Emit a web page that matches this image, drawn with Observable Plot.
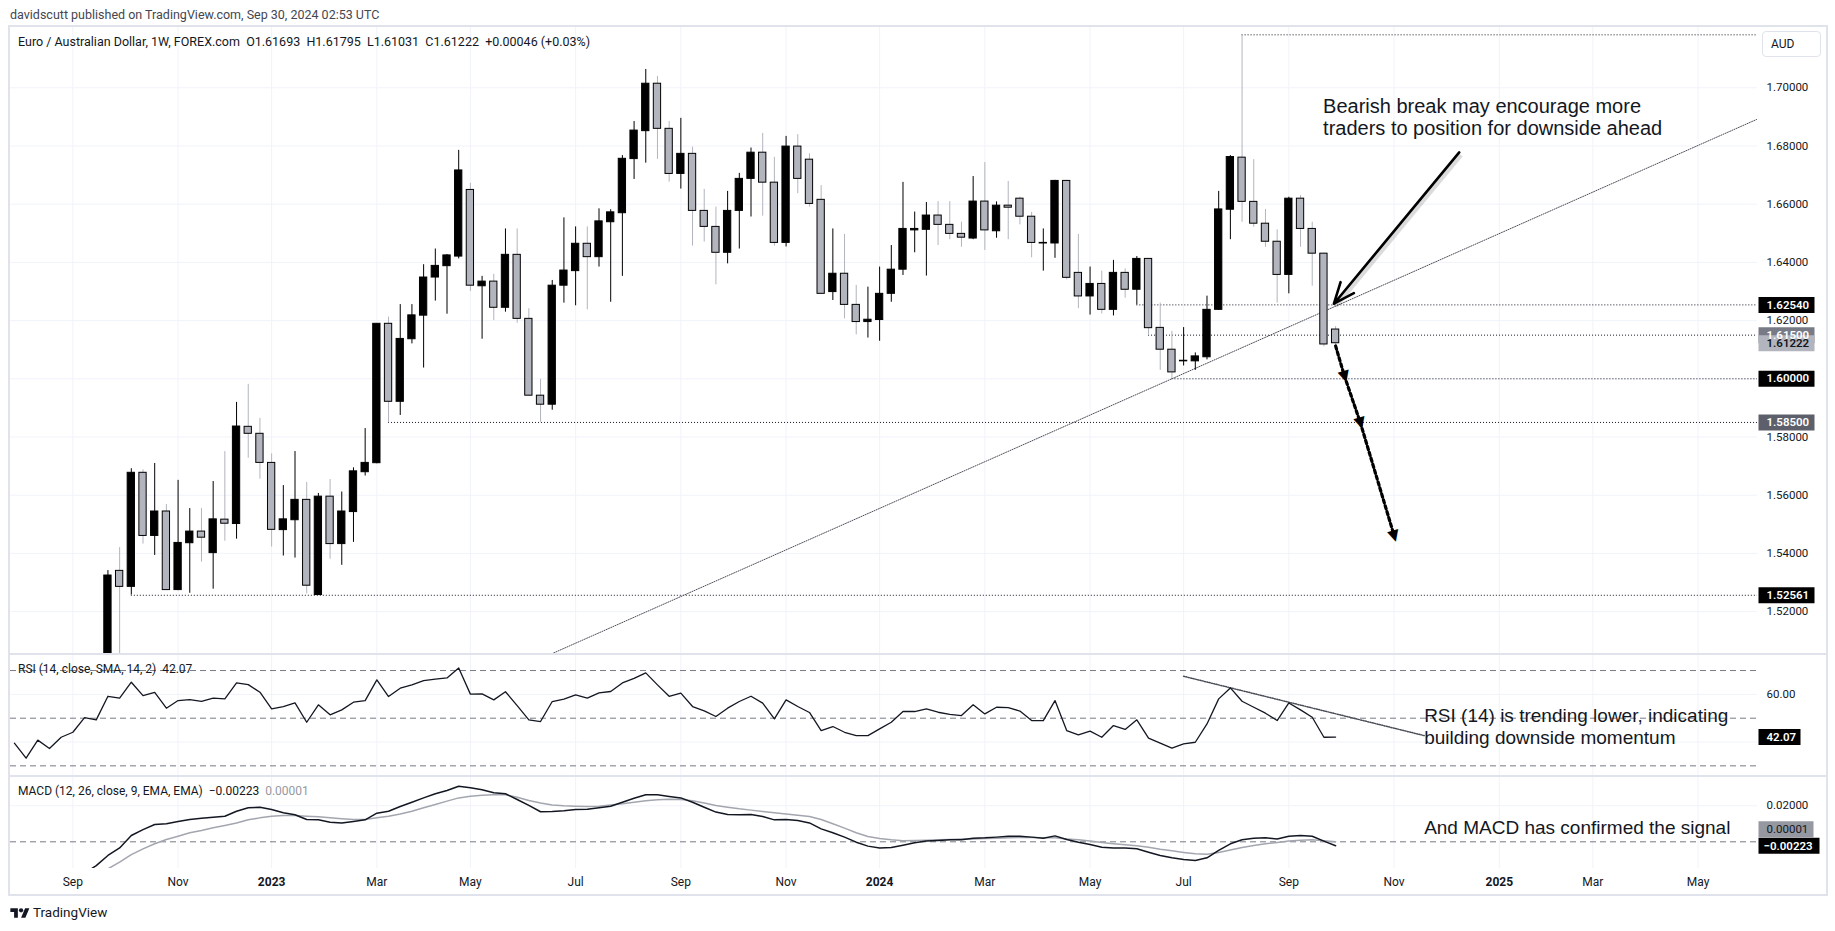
<!DOCTYPE html>
<html>
<head>
<meta charset="utf-8">
<script src="https://cdn.jsdelivr.net/npm/d3@7"></script>
<script src="https://cdn.jsdelivr.net/npm/@observablehq/plot@0.6"></script>
<style>
  html, body { margin: 0; padding: 0; background: #ffffff; }
  body { width: 1835px; height: 931px; position: relative; overflow: hidden; font-family: Roboto, "Noto Sans", sans-serif; color: #131722; }
  .abs { position: absolute; white-space: pre; }
  #frame { position: absolute; left: 8px; top: 25px; width: 1820px; height: 871px; box-sizing: border-box; border: 2px solid #e0e3eb; pointer-events: none; }
  .sep { position: absolute; left: 10px; width: 1816px; height: 2px; background: #e0e3eb; }
  #aud { position: absolute; left: 1762px; top: 31px; width: 59px; height: 26px; box-sizing: border-box; border: 1px solid #e0e3eb; border-radius: 4px; font-size: 12px; line-height: 24px; padding-left: 8px; background: #fff; }
</style>
</head>
<body>
<div id="charts"></div>
<div id="frame"></div>
<div class="sep" style="top:653px"></div>
<div class="sep" style="top:775px"></div>
<div class="abs" style="left:10px;top:7px;font-size:12.5px;color:#434651">davidscutt published on TradingView.com, Sep 30, 2024 02:53 UTC</div>
<div id="legend" class="abs" style="left:18px;top:34px;font-size:12.5px;"></div>
<div id="aud">AUD</div>
<div id="rsiLegend" class="abs" style="left:18px;top:662px;font-size:12px;"></div>
<div id="macdLegend" class="abs" style="left:18px;top:784px;font-size:12px;"></div>
<svg class="abs" style="left:10px;top:906px" width="20" height="15" viewBox="0 0 36 28"><path d="M14 22H7V11H0V4h14v18zM28 22h-8l7.5-18h8L28 22z" fill="#131722"/><circle cx="20" cy="8" r="4" fill="#131722"/></svg>
<div class="abs" style="left:33px;top:904px;font-size:13.5px;color:#131722">TradingView</div>
<script>
// ---------------- DATA ----------------
const symbolTitle = "Euro / Australian Dollar, 1W, FOREX.com";
const lastChange = "+0.00046 (+0.03%)";

const xDomainDates = ["2022-07-29T16:00:00Z", "2025-06-09T14:00:00Z"];
const tickDates = ["2022-09-05","2022-11-07","2023-01-02","2023-03-06","2023-05-01","2023-07-03","2023-09-04","2023-11-06",
  "2024-01-01","2024-03-04","2024-05-06","2024-07-01","2024-09-02","2024-11-04","2025-01-06","2025-03-03","2025-05-05"];
const tickLabels = ["Sep","Nov","2023","Mar","May","Jul","Sep","Nov","2024","Mar","May","Jul","Sep","Nov","2025","Mar","May"];
const priceTicks = [1.52, 1.54, 1.56, 1.58, 1.60, 1.62, 1.64, 1.66, 1.68, 1.70];

// weekly candles from week of 2022-09-26 to 2024-09-30
const candleStart = "2022-09-26";
const opens = [
  1.4990, 1.5340, 1.5285, 1.5677, 1.5460, 1.5544, 1.5274, 1.5435, 1.5475, 1.5401,
  1.5516, 1.5501, 1.5835, 1.5811, 1.5711, 1.5480, 1.5514, 1.5584, 1.5257, 1.5595,
  1.5432, 1.5542, 1.5679, 1.5710, 1.6189, 1.5921, 1.6136, 1.6217, 1.6348, 1.6387,
  1.6420, 1.6649, 1.6318, 1.6334, 1.6244, 1.6426, 1.6206, 1.5942, 1.5911, 1.6320,
  1.6370, 1.6464, 1.6418, 1.6538, 1.6569, 1.6755, 1.6851, 1.7014, 1.6859, 1.6704,
  1.6773, 1.6577, 1.6522, 1.6433, 1.6577, 1.6687, 1.6777, 1.6674, 1.6467, 1.6798,
  1.6753, 1.6615, 1.6298, 1.6361, 1.6254, 1.6195, 1.6202, 1.6292, 1.6375, 1.6510,
  1.6512, 1.6561, 1.6529, 1.6498, 1.6482, 1.6609, 1.6507, 1.6595, 1.6619, 1.6557,
  1.6465, 1.6465, 1.6680, 1.6364, 1.6283, 1.6326, 1.6237, 1.6364, 1.6306, 1.6412,
  1.6175, 1.6100, 1.6060, 1.6060, 1.6074, 1.6237, 1.6581, 1.6760, 1.6608, 1.6533,
  1.6471, 1.6357, 1.6619, 1.6515, 1.6430, 1.61693];
const highs = [
  1.5341, 1.5420, 1.5691, 1.5687, 1.5709, 1.5568, 1.5651, 1.5554, 1.5554, 1.5647,
  1.5750, 1.5919, 1.5981, 1.5864, 1.5742, 1.5633, 1.5750, 1.5644, 1.5606, 1.5654,
  1.5611, 1.5694, 1.5829, 1.6189, 1.6212, 1.6255, 1.6255, 1.6392, 1.6446, 1.6427,
  1.6785, 1.6672, 1.6352, 1.6359, 1.6515, 1.6515, 1.6241, 1.5998, 1.6338, 1.6553,
  1.6522, 1.6522, 1.6584, 1.6581, 1.6767, 1.6884, 1.7063, 1.7039, 1.6884, 1.6895,
  1.6796, 1.6651, 1.6590, 1.6644, 1.6706, 1.6793, 1.6843, 1.6761, 1.6833, 1.6839,
  1.6773, 1.6664, 1.6515, 1.6496, 1.6321, 1.6315, 1.6384, 1.6458, 1.6675, 1.6573,
  1.6606, 1.6609, 1.6609, 1.6538, 1.6695, 1.6743, 1.6608, 1.6678, 1.6624, 1.6572,
  1.6515, 1.6682, 1.6682, 1.6496, 1.6384, 1.6370, 1.6407, 1.6378, 1.6420, 1.6412,
  1.6260, 1.6163, 1.6176, 1.6089, 1.6284, 1.6644, 1.6767, 1.7182, 1.6753, 1.6582,
  1.6512, 1.6624, 1.6630, 1.6538, 1.6432, 1.61795];
const lows = [
  1.4950, 1.5000, 1.5257, 1.5432, 1.5393, 1.5272, 1.5272, 1.5263, 1.5370, 1.5277,
  1.5442, 1.5449, 1.5727, 1.5655, 1.5422, 1.5391, 1.5384, 1.5261, 1.5256, 1.5380,
  1.5359, 1.5438, 1.5666, 1.5708, 1.5849, 1.5874, 1.6120, 1.6037, 1.6267, 1.6222,
  1.6412, 1.6300, 1.6136, 1.6200, 1.6229, 1.6191, 1.5940, 1.5850, 1.5892, 1.6260,
  1.6251, 1.6237, 1.6384, 1.6263, 1.6352, 1.6685, 1.6741, 1.6754, 1.6676, 1.6652,
  1.6456, 1.6470, 1.6323, 1.6395, 1.6446, 1.6556, 1.6559, 1.6456, 1.6453, 1.6636,
  1.6590, 1.6290, 1.6269, 1.6206, 1.6151, 1.6140, 1.6129, 1.6263, 1.6355, 1.6433,
  1.6353, 1.6458, 1.6478, 1.6452, 1.6478, 1.6441, 1.6483, 1.6478, 1.6529, 1.6416,
  1.6370, 1.6414, 1.6340, 1.6241, 1.6219, 1.6223, 1.6216, 1.6277, 1.6254, 1.6149,
  1.6029, 1.6000, 1.6044, 1.6029, 1.6065, 1.6235, 1.6478, 1.6538, 1.6521, 1.6452,
  1.6260, 1.6292, 1.6452, 1.6318, 1.6110, 1.61031];
const closes = [
  1.5324, 1.5285, 1.5677, 1.5460, 1.5544, 1.5274, 1.5436, 1.5475, 1.5454, 1.5517,
  1.5502, 1.5836, 1.5811, 1.5711, 1.5481, 1.5517, 1.5584, 1.5289, 1.5595, 1.5432,
  1.5544, 1.5682, 1.5711, 1.6189, 1.5921, 1.6137, 1.6218, 1.6348, 1.6388, 1.6424,
  1.6716, 1.6320, 1.6334, 1.6244, 1.6426, 1.6206, 1.5942, 1.5911, 1.6320, 1.6372,
  1.6464, 1.6418, 1.6541, 1.6572, 1.6756, 1.6853, 1.7014, 1.6859, 1.6704, 1.6773,
  1.6577, 1.6522, 1.6433, 1.6577, 1.6687, 1.6777, 1.6674, 1.6467, 1.6798, 1.6687,
  1.6601, 1.6292, 1.6361, 1.6254, 1.6195, 1.6203, 1.6292, 1.6375, 1.6515, 1.6515,
  1.6561, 1.6529, 1.6498, 1.6485, 1.6609, 1.6510, 1.6595, 1.6588, 1.6557, 1.6467,
  1.6467, 1.6680, 1.6347, 1.6283, 1.6326, 1.6237, 1.6364, 1.6306, 1.6412, 1.6174,
  1.6100, 1.6022, 1.6062, 1.6077, 1.6237, 1.6582, 1.6762, 1.6608, 1.6533, 1.6471,
  1.6357, 1.6619, 1.6515, 1.6430, 1.6118, 1.61222];

// horizontal dotted levels (price, first week)
const levelPrices = [1.71820, 1.62540, 1.61500, 1.60000, 1.58500, 1.52561];
const levelFrom = ["2024-08-05", "2024-06-03", "2024-06-10", "2024-06-24", "2023-03-13", "2022-10-10"];

// price-scale boxes
const boxPrices = [1.62540, 1.61500, 1.61222, 1.60000, 1.58500, 1.52561];
const boxKinds = ["level", "mid", "last", "level", "dark", "level"];

// trend line (two anchors)
const trendDates = ["2023-06-12", "2025-06-09"];
const trendPrices = [1.5038, 1.6891];

// annotation arrow
const arrowFrom = {date: "2024-12-13", price: 1.6778};
const arrowTo = {date: "2024-09-29", price: 1.6258};

// dotted projection path
const projDates = ["2024-09-30", "2024-10-05T06:00:00Z", "2024-10-14T17:00:00Z", "2024-11-04"];
const projPrices = [1.6113, 1.6010, 1.5851, 1.5462];

// notes
const mainNote = {date: "2024-09-22T12:00:00Z", value: 1.6899, text: "Bearish break may encourage more\ntraders to position for downside ahead"};
const rsiNote = {date: "2024-11-22", value: 46.94, text: "RSI (14) is trending lower, indicating\nbuilding downside momentum"};
const macdNote = {date: "2024-11-22", value: 0.00794, text: "And MACD has confirmed the signal"};

// RSI weekly from 2022-08-01
const rsiStart = "2022-08-01";
const rsiValues = [
  39.5, 33.2, 40.8, 37.3, 42.0, 44.1, 50.2, 49.3, 59.2, 58.4,
  65.1, 59.5, 60.8, 54.2, 57.4, 57.8, 57.1, 58.4, 58.1, 64.8,
  64.1, 60.9, 53.9, 54.9, 56.4, 48.3, 55.6, 51.4, 53.5, 56.7,
  57.4, 66.1, 59.1, 62.6, 64.0, 65.8, 66.4, 66.9, 71.1, 60.1,
  60.2, 57.7, 61.1, 55.3, 49.3, 48.6, 57.0, 58.0, 59.8, 58.4,
  60.6, 61.2, 64.8, 66.7, 69.0, 64.0, 59.2, 60.5, 54.9, 53.1,
  50.7, 54.2, 57.0, 59.2, 56.3, 49.7, 57.7, 54.9, 52.4, 44.8,
  46.5, 44.1, 42.7, 42.7, 45.5, 48.3, 52.8, 52.8, 53.9, 52.5,
  51.6, 51.1, 55.6, 51.8, 54.6, 54.4, 53.0, 49.0, 49.0, 57.4,
  44.8, 43.0, 44.6, 42.0, 46.9, 45.3, 49.3, 41.6, 39.5, 37.4,
  39.2, 39.9, 47.6, 58.1, 62.7, 57.1, 54.6, 52.1, 49.0, 56.4,
  53.5, 50.4, 42.0, 42.07];
const rsiBands = [70, 50, 30];
const rsiGrid = [60, 40];
const rsiTrendDates = ["2024-07-01", "2024-11-22"];
const rsiTrendValues = [67.6, 42.7];

// MACD weekly from 2022-09-12
const macdStart = "2022-09-12";
const macdValues = [
  -0.0175, -0.0132, -0.0076, -0.0034, 0.0035, 0.0068, 0.0096, 0.0100, 0.0113, 0.0124,
  0.0131, 0.0137, 0.0142, 0.0170, 0.0189, 0.0192, 0.0179, 0.0161, 0.0150, 0.0124,
  0.0122, 0.0109, 0.0105, 0.0113, 0.0122, 0.0159, 0.0170, 0.0196, 0.0220, 0.0244,
  0.0267, 0.0285, 0.0309, 0.0300, 0.0289, 0.0272, 0.0267, 0.0235, 0.0202, 0.0167,
  0.0168, 0.0172, 0.0179, 0.0181, 0.0189, 0.0198, 0.0220, 0.0242, 0.0261, 0.0261,
  0.0252, 0.0244, 0.0220, 0.0192, 0.0165, 0.0152, 0.0150, 0.0152, 0.0141, 0.0122,
  0.0124, 0.0118, 0.0105, 0.0072, 0.0050, 0.0026, -0.0002, -0.0024, -0.0034, -0.0032,
  -0.0019, -0.0005, 0.0004, 0.0007, 0.0011, 0.0011, 0.0020, 0.0022, 0.0026, 0.0031,
  0.0031, 0.0026, 0.0020, 0.0033, 0.0013, -0.0002, -0.0015, -0.0030, -0.0034, -0.0035,
  -0.0039, -0.0058, -0.0076, -0.0089, -0.0098, -0.0104, -0.0089, -0.0048, -0.0011, 0.0011,
  0.0020, 0.0022, 0.0016, 0.0031, 0.0035, 0.0031, 0.0004, -0.00223];
const signalValues = [
  -0.0215, -0.0185, -0.0150, -0.0113, -0.0071, -0.0039, -0.0011, 0.0013, 0.0031, 0.0050,
  0.0063, 0.0078, 0.0091, 0.0105, 0.0122, 0.0133, 0.0142, 0.0146, 0.0146, 0.0142,
  0.0139, 0.0133, 0.0128, 0.0124, 0.0124, 0.0133, 0.0142, 0.0155, 0.0170, 0.0189,
  0.0207, 0.0226, 0.0244, 0.0253, 0.0259, 0.0261, 0.0261, 0.0248, 0.0229, 0.0215,
  0.0205, 0.0200, 0.0198, 0.0196, 0.0198, 0.0204, 0.0211, 0.0220, 0.0228, 0.0233,
  0.0237, 0.0235, 0.0228, 0.0215, 0.0202, 0.0192, 0.0183, 0.0176, 0.0168, 0.0161,
  0.0155, 0.0148, 0.0141, 0.0124, 0.0100, 0.0076, 0.0050, 0.0029, 0.0018, 0.0011,
  0.0006, 0.0007, 0.0009, 0.0011, 0.0013, 0.0015, 0.0016, 0.0018, 0.0020, 0.0022,
  0.0024, 0.0024, 0.0022, 0.0022, 0.0016, 0.0011, 0.0004, -0.0004, -0.0011, -0.0017,
  -0.0022, -0.0030, -0.0041, -0.0050, -0.0059, -0.0067, -0.0069, -0.0059, -0.0045, -0.0032,
  -0.0021, -0.0011, -0.0004, 0.0004, 0.0009, 0.0012, 0.0006, 0.00001];
const macdGrid = [0.02];

// ---------------- STYLE / LAYOUT ----------------
const DAY = 864e5;
const FONT = "Roboto, 'Noto Sans', sans-serif";
const NOTE_FONT = "'Liberation Sans', Arial, sans-serif";
const GRID = "#f0f3fa";
const INK = "#131722";
const GREY = "#b2b5be";
const DOTTED = "#4a4d57";
const boxStyle = {
  level: {bg: "#000000", fg: "#ffffff"},
  mid: {bg: "#787b86", fg: "#ffffff"},
  last: {bg: "#b2b5be", fg: INK},
  dark: {bg: "#5d606b", fg: "#ffffff"}
};
const toDate = s => new Date(s.length === 10 ? s + "T00:00:00Z" : s);
const weekly = (start, n) => Array.from({length: n}, (_, i) => new Date(+toDate(start) + i * 7 * DAY));
const xDom = xDomainDates.map(toDate);
const boxSym = (w, h) => ({draw(ctx) { ctx.moveTo(-w / 2, -h / 2); ctx.lineTo(w / 2, -h / 2); ctx.lineTo(w / 2, h / 2); ctx.lineTo(-w / 2, h / 2); ctx.closePath(); }});

function base(height, marginBottom, yDomain) {
  return {
    width: 1835, height, marginLeft: 10, marginRight: 78, marginTop: 0, marginBottom,
    x: {type: "utc", domain: xDom, axis: null},
    y: {domain: yDomain, axis: null},
    color: {type: "identity"},
    style: {background: "transparent", fontFamily: FONT, fontSize: "12px", overflow: "visible", color: INK}
  };
}

const ticks = tickDates.map((d, i) => ({date: toDate(d), label: tickLabels[i], year: /^\d{4}$/.test(tickLabels[i])}));
const candleDates = weekly(candleStart, opens.length);
const candles = opens.map((o, i) => ({date: candleDates[i], open: o, high: highs[i], low: lows[i], close: closes[i], up: closes[i] >= o}));
const levels = levelPrices.map((p, i) => ({price: p, from: toDate(levelFrom[i])}));
const boxes = boxPrices.map((p, i) => ({price: p, label: d3.format(".5f")(p), bg: boxStyle[boxKinds[i]].bg, fg: boxStyle[boxKinds[i]].fg}));
const trend = trendDates.map((d, i) => ({date: toDate(d), price: trendPrices[i]}));
const proj = projDates.map((d, i) => ({date: toDate(d), price: projPrices[i]}));
const arrow = [{x1: toDate(arrowFrom.date), y1: arrowFrom.price, x2: toDate(arrowTo.date), y2: arrowTo.price}];
const rsi = weekly(rsiStart, rsiValues.length).map((d, i) => ({date: d, value: rsiValues[i]}));
const rsiTrend = rsiTrendDates.map((d, i) => ({date: toDate(d), value: rsiTrendValues[i]}));
const macdDates = weekly(macdStart, macdValues.length);
const macd = macdDates.map((d, i) => ({date: d, value: macdValues[i]}));
const signal = macdDates.map((d, i) => ({date: d, value: signalValues[i]}));
const lastC = candles[candles.length - 1];
const f5 = d3.format(".5f");

// legends
document.getElementById("legend").textContent =
  `${symbolTitle}  O${f5(lastC.open)}  H${f5(lastC.high)}  L${f5(lastC.low)}  C${f5(lastC.close)}  ${lastChange}`;
document.getElementById("rsiLegend").innerHTML = `RSI (14, close, SMA, 14, 2)  <span>${rsiValues[rsiValues.length - 1].toFixed(2)}</span>`;
document.getElementById("macdLegend").innerHTML =
  `MACD (12, 26, close, 9, EMA, EMA)  <span>${d3.format(".5f")(macdValues[macdValues.length - 1]).replace("-", "\u2212")}</span>  <span style="color:#9598a1">${d3.format(".5f")(signalValues[signalValues.length - 1])}</span>`;

const charts = document.getElementById("charts");
function place(svg, top) { svg.style.position = "absolute"; svg.style.left = "0px"; svg.style.top = top + "px"; charts.appendChild(svg); }

// ---------------- MAIN PRICE PANEL ----------------
const mainPlot = Plot.plot({
  ...base(627, 0, [1.50526, 1.72072]),
  marks: [
    Plot.ruleX(ticks, {x: "date", stroke: GRID}),
    Plot.ruleY(priceTicks, {stroke: GRID}),
    Plot.ruleY(levels, {y: "price", x1: "from", x2: () => xDom[1], stroke: INK, strokeDasharray: "1,2", clip: true}),
    Plot.line(trend, {x: "date", y: "price", stroke: DOTTED, strokeDasharray: "1,1.4", strokeWidth: 1, clip: true}),
    Plot.ruleX(candles, {x: "date", y1: "low", y2: "high", stroke: d => d.up ? "#000000" : GREY, strokeWidth: 1, clip: true}),
    Plot.rect(candles, {
      x1: d => new Date(+d.date - 3.5 * DAY), x2: d => new Date(+d.date + 3.5 * DAY),
      y1: "open", y2: "close", insetLeft: 2.2, insetRight: 2.2,
      fill: d => d.up ? "#000000" : GREY, stroke: "#000000", strokeWidth: 1, clip: true
    }),
    Plot.link(arrow, {x1: "x1", y1: "y1", x2: "x2", y2: "y2", stroke: "#000", strokeOpacity: 0.14, strokeWidth: 5, dx: 1.5, dy: 2.5}),
    Plot.arrow(arrow, {x1: "x1", y1: "y1", x2: "x2", y2: "y2", stroke: "#000", strokeWidth: 2.6, headLength: 13, headAngle: 45}),
    Plot.line(proj, {x: "date", y: "price", stroke: "#000", strokeWidth: 3.2, strokeDasharray: "3.2,3"}),
    Plot.text(proj.slice(1), {x: "date", y: "price", text: () => "\u25BC", fill: "#000", fontSize: 15, rotate: -16, fontFamily: "'DejaVu Sans', sans-serif", lineAnchor: "middle"}),
    Plot.text([mainNote], {x: d => toDate(d.date), y: "value", text: "text", textAnchor: "start", lineAnchor: "middle", lineHeight: 1.07, fontSize: 20, fontFamily: NOTE_FONT, fill: INK}),
    // price scale
    Plot.text(priceTicks, {y: d => d, frameAnchor: "right", dx: 9, textAnchor: "start", text: d => f5(d), fill: INK, fontSize: 11.5}),
    Plot.dot(boxes, {y: "price", frameAnchor: "right", dx: 29, symbol: boxSym(56, 16), fill: "bg"}),
    Plot.text(boxes, {y: "price", frameAnchor: "right", dx: 9, textAnchor: "start", text: "label", fill: "fg", fontSize: 11.5, fontWeight: 600})
  ]
});
place(mainPlot, 27);

// ---------------- RSI PANEL ----------------
const rsiLast = rsi[rsi.length - 1];
const rsiPlot = Plot.plot({
  ...base(122, 0, [25.53, 76.73]),
  marks: [
    Plot.ruleX(ticks, {x: "date", stroke: GRID}),
    Plot.ruleY(rsiGrid, {stroke: GRID}),
    Plot.ruleY(rsiBands, {stroke: "#787b86", strokeDasharray: "6,4", strokeWidth: 1}),
    Plot.line(rsiTrend, {x: "date", y: "value", stroke: DOTTED, strokeDasharray: "1,1.4"}),
    Plot.line(rsi, {x: "date", y: "value", stroke: INK, strokeWidth: 1.3, clip: true}),
    Plot.text([rsiNote], {x: d => toDate(d.date), y: "value", text: "text", textAnchor: "start", lineAnchor: "middle", lineHeight: 1.16, fontSize: 19, fontFamily: NOTE_FONT, fill: INK}),
    Plot.text(rsiGrid.slice(0, 1), {y: d => d, frameAnchor: "right", dx: 9, textAnchor: "start", text: d => d.toFixed(2), fill: INK, fontSize: 11.5}),
    Plot.dot([rsiLast], {y: "value", frameAnchor: "right", dx: 22, symbol: boxSym(42, 16), fill: "#000"}),
    Plot.text([rsiLast], {y: "value", frameAnchor: "right", dx: 9, textAnchor: "start", text: d => d.value.toFixed(2), fill: "#fff", fontSize: 11.5, fontWeight: 600})
  ]
});
place(rsiPlot, 654);

// ---------------- MACD PANEL ----------------
const macdLast = macd[macd.length - 1];
const sigLast = signal[signal.length - 1];
const macdPlot = Plot.plot({
  ...base(118, 26, [-0.01483, 0.03628]),
  marks: [
    Plot.ruleX(ticks, {x: "date", stroke: GRID}),
    Plot.ruleY(macdGrid, {stroke: GRID}),
    Plot.ruleY([0], {stroke: "#787b86", strokeDasharray: "6,4", strokeWidth: 1}),
    Plot.line(signal, {x: "date", y: "value", stroke: "#a3a6af", strokeWidth: 1.5, clip: true}),
    Plot.line(macd, {x: "date", y: "value", stroke: INK, strokeWidth: 1.5, clip: true}),
    Plot.text([macdNote], {x: d => toDate(d.date), y: "value", text: "text", textAnchor: "start", lineAnchor: "middle", fontSize: 19, fontFamily: NOTE_FONT, fill: INK}),
    Plot.text(macdGrid, {y: d => d, frameAnchor: "right", dx: 9, textAnchor: "start", text: d => f5(d), fill: INK, fontSize: 11.5}),
    Plot.dot([sigLast], {y: "value", frameAnchor: "right", dx: 28.5, dy: -12.5, symbol: boxSym(55, 16), fill: "#9598a1"}),
    Plot.text([sigLast], {y: "value", frameAnchor: "right", dx: 9, dy: -12.5, textAnchor: "start", text: d => f5(d.value), fill: INK, fontSize: 11.5}),
    Plot.dot([macdLast], {y: "value", frameAnchor: "right", dx: 31.5, symbol: boxSym(61, 16), fill: "#000"}),
    Plot.text([macdLast], {y: "value", frameAnchor: "right", dx: 6, textAnchor: "start", text: d => f5(d.value).replace("-", "\u2212"), fill: "#fff", fontSize: 11.5, fontWeight: 600}),
    // time axis
    Plot.text(ticks.filter(t => !t.year), {x: "date", frameAnchor: "bottom", dy: 14, text: "label", lineAnchor: "middle", fill: INK, fontSize: 12}),
    Plot.text(ticks.filter(t => t.year), {x: "date", frameAnchor: "bottom", dy: 14, text: "label", lineAnchor: "middle", fill: INK, fontSize: 12, fontWeight: "bold"})
  ]
});
place(macdPlot, 776);
</script>
</body>
</html>
